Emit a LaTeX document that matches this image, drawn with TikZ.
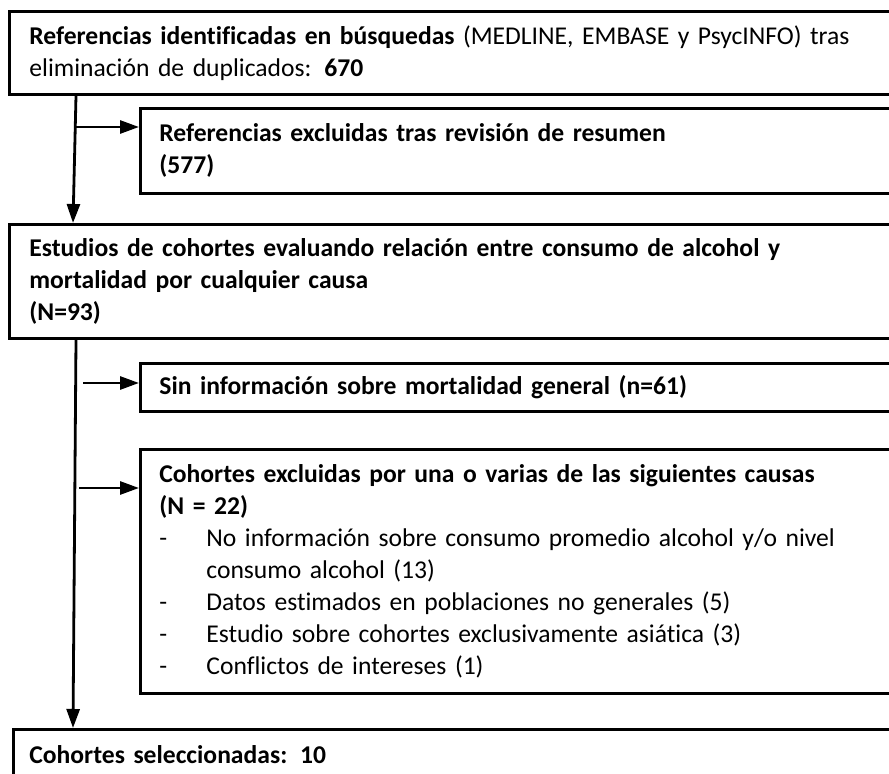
\documentclass[tikz,border=0pt]{standalone}
\usepackage{fontspec}
\setmainfont{Carlito}[Ligatures=CommonOff]
\usetikzlibrary{arrows.meta,positioning}

\newcommand{\dashitem}[1]{\par\hangindent=23.5pt\hangafter=1\noindent\makebox[23.5pt][l]{-}#1}

\begin{document}
\begin{tikzpicture}[x=0.5pt, y=-0.5pt,
    font=\fontsize{12.8}{16}\selectfont,
    mainbox/.style={draw, line width=1.4pt, anchor=north west, align=left,
      inner xsep=10pt, inner ysep=3pt, text width=440pt},
    sidebox/.style={mainbox, inner xsep=9.5pt, text width=380pt},
    flow/.style={line width=1.4pt, -{Triangle[length=9.5pt,width=6.5pt]}}]
            \useasboundingbox (0,0) rectangle (889,774);
            \clip (0,0) rectangle (889,774);
            % stages of the selection
            \node[mainbox, minimum height=41.5pt] (ident) at (8,10)
                {\textbf{Referencias identificadas en búsquedas} (MEDLINE, EMBASE y PsycINFO) tras\\
                 eliminación de duplicados: \textbf{670}};
            \node[sidebox, minimum height=42.5pt] (abstr) at (139,107)
                {\textbf{Referencias excluidas tras revisión de resumen}\\ \textbf{(577)}};
            \node[mainbox, minimum height=57pt] (cohort) at (8,223)
                {\textbf{Estudios de cohortes evaluando relación entre consumo de alcohol y}\\
                 \textbf{mortalidad por cualquier causa}\\ \textbf{(N=93)}};
            \node[sidebox, minimum height=24pt] (nomort) at (139,362)
                {\textbf{Sin información sobre mortalidad general (n=61)}};
            \node[sidebox, minimum height=122pt] (causes) at (139,448)
                {\textbf{Cohortes excluidas por una o varias de las siguientes causas}\\ \textbf{(N = 22)}
                 \dashitem{No información sobre consumo promedio alcohol y/o nivel\newline consumo alcohol (13)}
                 \dashitem{Datos estimados en poblaciones no generales (5)}
                 \dashitem{Estudio sobre cohortes exclusivamente asiática (3)}
                 \dashitem{Conflictos de intereses (1)}};
            \node[mainbox, minimum height=25pt, inner xsep=8pt] (select) at (12,728)
                {\textbf{Cohortes seleccionadas: 10}};
            % main flow and exclusions
            \draw[flow] ([xshift=34pt]ident.south west) -- ([xshift=32.5pt]cohort.north west);
            \draw[flow] ([xshift=34pt]cohort.south west) -- ([xshift=30.5pt]select.north west);
            \coordinate (t1) at (75,127);
            \coordinate (t2) at (83,383);
            \coordinate (t3) at (79,488);
            \draw[flow] (t1) -- (t1 -| abstr.west);
            \draw[flow] (t2) -- (t2 -| nomort.west);
            \draw[flow] (t3) -- (t3 -| causes.west);
        \end{tikzpicture}
\end{document}
